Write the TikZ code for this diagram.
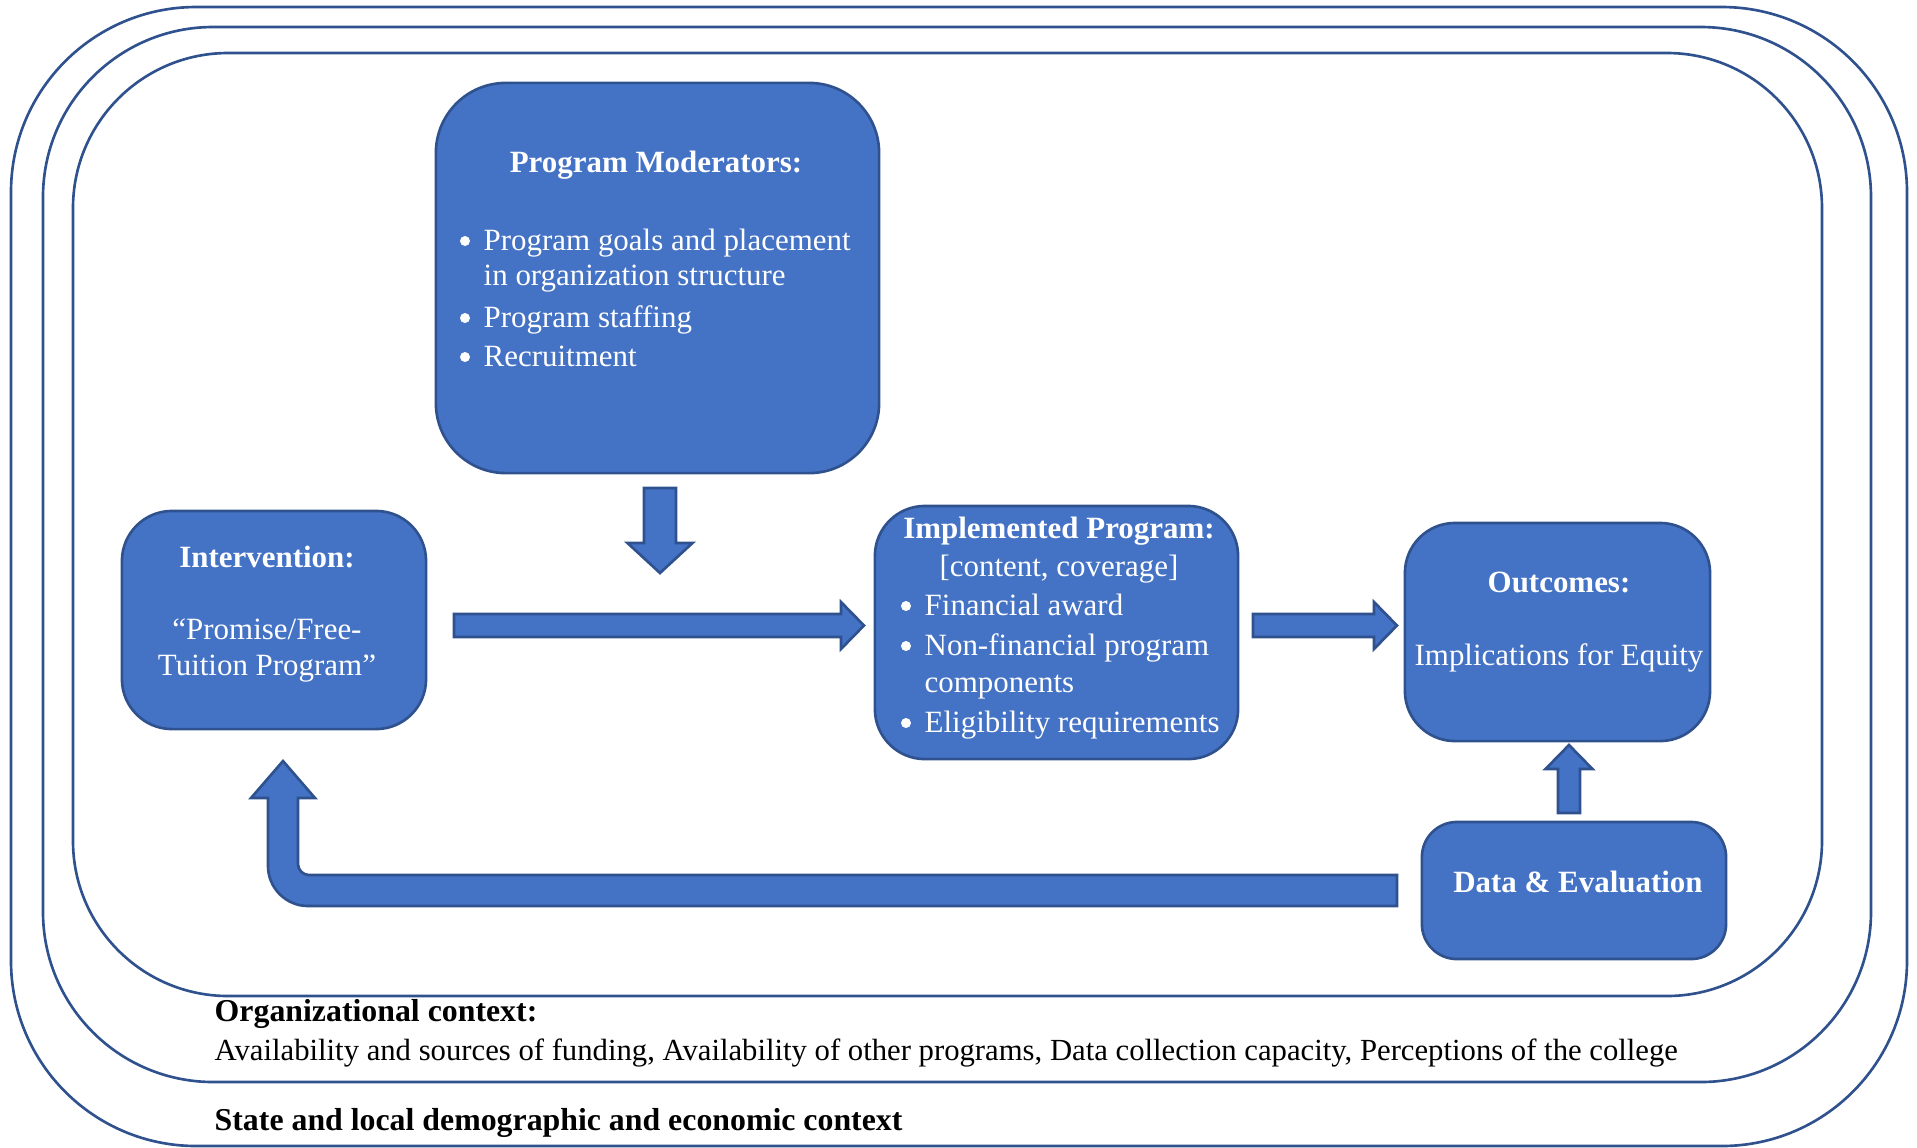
\documentclass[tikz,border=0pt]{standalone}
\usepackage{fontspec}
\setmainfont{Liberation Serif}
\definecolor{boxblue}{HTML}{4472C4}
\definecolor{edgeblue}{HTML}{2F528F}
\newcommand{\myfs}{\fontsize{8.8}{10.5}\selectfont}
% horizontal block arrow: start, tip, shaft half, head half, head length (signed)
\newcommand{\hblockarrow}[5]{%
  \draw[blockarrow] ([shift={(0,-#3)}]#1) -- ([shift={(-#5,-#3)}]#2) -- ([shift={(-#5,-#4)}]#2) -- (#2)
    -- ([shift={(-#5,#4)}]#2) -- ([shift={(-#5,#3)}]#2) -- ([shift={(0,#3)}]#1) -- cycle;}
% vertical block arrow: start, tip, shaft half, head half, head length (signed, + = downward)
\newcommand{\vblockarrow}[5]{%
  \draw[blockarrow] ([shift={(-#3,0)}]#1) -- ([shift={(-#3,-#5)}]#2) -- ([shift={(-#4,-#5)}]#2) -- (#2)
    -- ([shift={(#4,-#5)}]#2) -- ([shift={(#3,-#5)}]#2) -- ([shift={(#3,0)}]#1) -- cycle;}
\begin{document}
\begin{tikzpicture}[x=0.01cm,y=-0.01cm,
  frame/.style={draw=edgeblue, line width=0.75pt},
  box/.style={draw=edgeblue, fill=boxblue, line width=0.75pt, rectangle, inner sep=0pt},
  blockarrow/.style={draw=edgeblue, fill=boxblue, line width=0.75pt, line join=miter},
  wt/.style={text=white, font=\myfs, inner sep=0pt},
  wtb/.style={text=white, font=\myfs\bfseries, inner sep=0pt},
  dotmark/.style={circle, fill=white, draw=none, inner sep=0pt, minimum size=0.1cm},
  bt/.style={text=black, font=\fontsize{8.73}{10.5}\selectfont, inner sep=0pt, anchor=mid west},
  btb/.style={text=black, font=\fontsize{9.05}{10.5}\selectfont\bfseries, inner sep=0pt, anchor=mid west}]
\useasboundingbox (0,0) rectangle (1917,1147);

% context frames
\draw[frame, rounded corners=1.85cm] (11,7) rectangle (1907,1146);
\draw[frame, rounded corners=1.7cm] (43,27) rectangle (1871,1082);
\draw[frame, rounded corners=1.55cm] (73,53) rectangle (1822,996);

% boxes
\node[box, minimum width=4.43cm, minimum height=3.90cm, rounded corners=0.7cm] (pm) at (657.5,278) {};
\node[box, minimum width=3.04cm, minimum height=2.18cm, rounded corners=0.5cm] (intv) at (274,620) {};
\node[box, minimum width=3.63cm, minimum height=2.53cm, rounded corners=0.5cm] (impl) at (1056.5,632.5) {};
\node[box, minimum width=3.05cm, minimum height=2.18cm, rounded corners=0.5cm] (outc) at (1557.5,632) {};
\node[box, minimum width=3.04cm, minimum height=1.37cm, rounded corners=0.35cm] (data) at (1574,890.5) {};

% block arrows
\coordinate (dnS) at (660,488);   \coordinate (dnE) at (660,573);
\coordinate (h1S) at (454,625.5); \coordinate (h1E) at (864,625.5);
\coordinate (h2S) at (1253,625.5);\coordinate (h2E) at (1397,625.5);
\coordinate (upS) at (1569,813);  \coordinate (upE) at (1569,745);
\vblockarrow{dnS}{dnE}{16}{32.5}{30}
\hblockarrow{h1S}{h1E}{11.5}{23.5}{23}
\hblockarrow{h2S}{h2E}{11.5}{23.5}{23}
\vblockarrow{upS}{upE}{11}{23.5}{-24}
\draw[blockarrow] (1397,875) -- (309,875) .. controls (303,875) and (298,870) .. (298,864)
  -- (298,798) -- (315,798) -- (283,761) -- (251,798) -- (268,798) -- (268,866)
  .. controls (268,888) and (286,906) .. (308,906) -- (1397,906) -- cycle;

% Program Moderators text
\node[wtb, anchor=mid] (pmT) at (656,164) {Program Moderators:};
\node[dotmark] (pmB1) at (465,241) {};
\node[wt, anchor=mid west] (pmL1) at (483,242) {Program goals and placement};
\node[wt, anchor=mid west] (pmL1b) at (483,277) {in organization structure};
\node[dotmark] (pmB2) at (465,318) {};
\node[wt, anchor=mid west] (pmL2) at (483,319) {Program staffing};
\node[dotmark] (pmB3) at (465,357) {};
\node[wt, anchor=mid west] (pmL3) at (483,358) {Recruitment};

% Intervention text
\node[wtb, anchor=mid] (intT) at (267,559) {Intervention:};
\node[wt, anchor=mid] (intL1) at (267,631) {“Promise/Free-};
\node[wt, anchor=mid] (intL2) at (267,667) {Tuition Program”};

% Implemented Program text
\node[wtb, anchor=mid] (impT) at (1059,530) {Implemented Program:};
\node[wt, anchor=mid] (impS) at (1059,568) {[content, coverage]};
\node[dotmark] (impB1) at (906,606) {};
\node[wt, anchor=mid west] (impL1) at (924,607) {Financial award};
\node[dotmark] (impB2) at (906,646) {};
\node[wt, anchor=mid west] (impL2) at (924,647) {Non-financial program};
\node[wt, anchor=mid west] (impL2b) at (924,684) {components};
\node[dotmark] (impB3) at (906,723) {};
\node[wt, anchor=mid west] (impL3) at (924,724) {Eligibility requirements};

% Outcomes text
\node[wtb, anchor=mid] (outT) at (1559,584) {Outcomes:};
\node[wt, anchor=mid] (outL) at (1559,657) {Implications for Equity};

% Data text
\node[wtb, anchor=mid] (datT) at (1578,884) {Data \& Evaluation};

% context labels
\node[btb] (orgT) at (214,1013) {Organizational context:};
\node[bt] (orgL) at (214,1052) {Availability and sources of funding, Availability of other programs, Data collection capacity, Perceptions of the college};
\node[btb] (stT) at (214,1122) {State and local demographic and economic context};
\end{tikzpicture}
\end{document}
